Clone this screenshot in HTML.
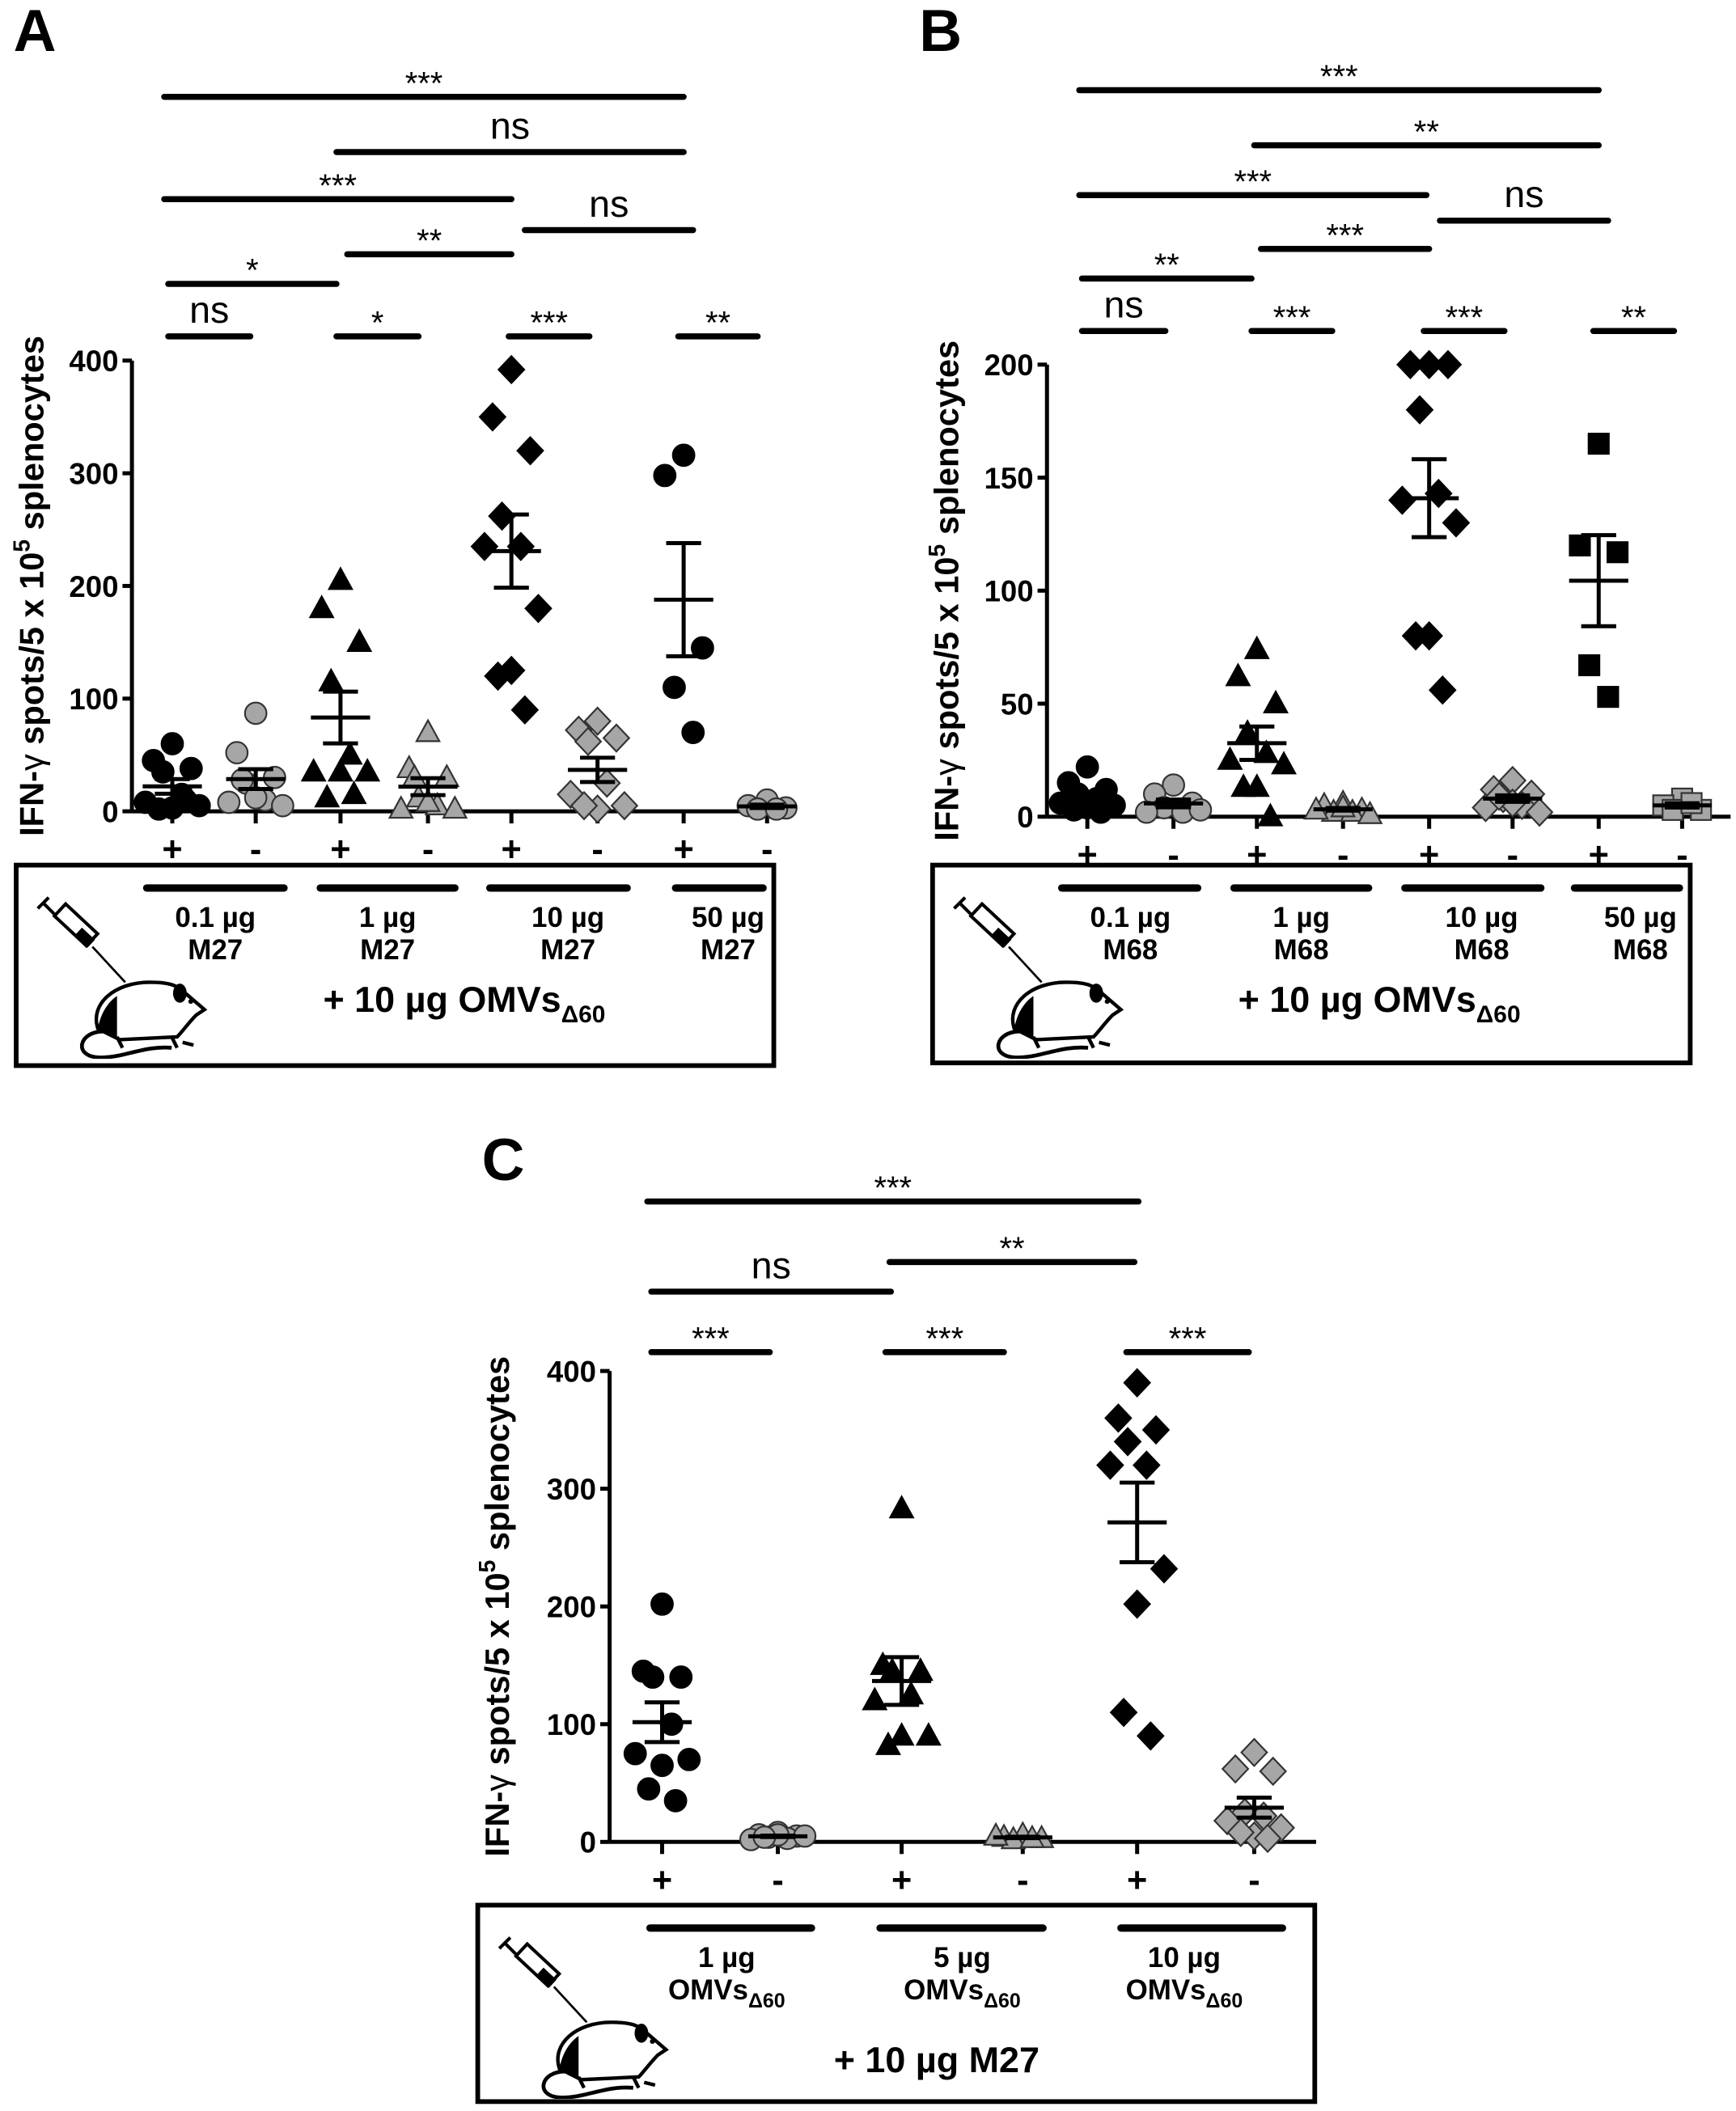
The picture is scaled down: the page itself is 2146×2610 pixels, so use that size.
<!DOCTYPE html>
<html><head><meta charset="utf-8">
<style>
html,body{margin:0;padding:0;background:#fff;}
svg{display:block;}
text{font-family:"Liberation Sans",sans-serif;}
</style></head>
<body>
<svg id="fig" width="2146" height="2610" viewBox="0 0 1290 1569" xmlns="http://www.w3.org/2000/svg">
<defs>
<symbol id="mouse" viewBox="0 0 130 120">
<g fill="none" stroke="#000" stroke-width="2.4">
<line x1="2" y1="10" x2="10" y2="2"/>
<line x1="6" y1="6" x2="14" y2="14"/>
<rect x="14" y="16" width="32" height="12" transform="rotate(43 30 22)" fill="#fff"/>
<line x1="42" y1="38" x2="66" y2="64" stroke-width="1.6"/>
</g>
<rect x="30" y="27" width="13" height="8" transform="rotate(43 36 31)" fill="#000"/>
<path d="M50 100 C32 100 28 118 46 119 C64 120 80 110 100 112" fill="none" stroke="#000" stroke-width="2.8"/>
<path d="M46 98 C40 80 58 64 84 64 C98 64 104 66 110 72 L124 84 L118 88 C112 94 108 100 104 104 L62 106 Z" fill="#fff" stroke="#000" stroke-width="2.6"/>
<path d="M46 98 C48 86 54 78 60 74 L60 104 Z" fill="#000"/>
<ellipse cx="106" cy="72" rx="5" ry="7" fill="#000"/>
<circle cx="114" cy="78" r="1.8" fill="#000"/>
<path d="M60 104 l4 8 M100 104 l4 8 M108 108 l8 2" stroke="#000" stroke-width="2.6"/>
</symbol>
</defs>
</svg>
<script>
// ---------- data ----------
const groupLabelsAB = ["+","-","+","-","+","-","+","-"];
const groupLabelsC = ["+","-","+","-","+","-"];
const aTicks = [0,100,200,300,400];
const bTicks = [0,50,100,150,200];
const cTicks = [0,100,200,300,400];
const a1 = [60,45,38,35,15,8,5,3,2,10];
const a2 = [87,52,30,25,10,8,5,12,28];
const a3 = [205,180,150,115,50,35,35,35,12,15];
const a4 = [70,38,30,12,5,2,2,8,30];
const a5 = [392,350,320,262,235,235,180,125,120,90];
const a6 = [80,72,65,62,25,15,5,2,5];
const a7 = [316,298,145,110,70];
const a8 = [10,5,3,2,2];
const b1 = [22,15,12,10,8,6,5,4,3,2];
const b2 = [14,10,6,4,2,2,3];
const b3 = [74,62,50,37,28,25,23,13,13,0];
const b4 = [6,5,3,2,2,3,1,4];
const b5 = [200,200,200,180,143,140,130,80,80,56];
const b6 = [16,12,10,8,5,4,2,6,9];
const b7 = [165,120,117,67,53];
const b8 = [8,5,3,3,6];
const c1 = [202,145,140,140,100,75,70,65,45,35];
const c2 = [8,6,5,4,3,2,5,6,4];
const c3 = [283,150,145,145,125,120,90,90,82];
const c4 = [6,4,3,2,3,5];
const c5 = [390,360,350,340,320,320,232,202,110,90];
const c6 = [76,62,60,25,22,18,12,5,8,3];
const aLabels = ["0.1 µg|M27","1 µg|M27","10 µg|M27","50 µg|M27"];
const bLabels = ["0.1 µg|M68","1 µg|M68","10 µg|M68","50 µg|M68"];
const cLabels = ["1 µg|OMVs","5 µg|OMVs","10 µg|OMVs"];
const aSig = ["***","ns","***","ns","**","*","ns","*","***","**"];
const bSig = ["***","**","***","ns","***","**","ns","***","***","**"];
const cSig = ["***","**","ns","***","***","***"];

const NS="http://www.w3.org/2000/svg";
const svg=document.getElementById('fig');
function el(tag,attrs,parent){const e=document.createElementNS(NS,tag);for(const k in attrs)e.setAttribute(k,attrs[k]);(parent||svg).appendChild(e);return e;}
function txt(s,x,y,size,bold,parent,anchor){const t=el('text',{x:x,y:y,'font-size':size,'text-anchor':anchor||'middle','font-weight':bold?'bold':'normal'},parent);t.textContent=s;return t;}
const jit=[0,-14,14,-7,7,-20,20,0,-10,10,-16,16];

function marker(shape,fill,cx,cy,g){
  const st={fill:fill,stroke:fill==='#000'?'#000':'#333','stroke-width':1.3};
  let m;
  if(shape==='circle') m=el('circle',Object.assign({cx:cx,cy:cy,r:8},st),g);
  else if(shape==='tri') m=el('polygon',Object.assign({points:`${cx},${cy-9} ${cx-8.5},${cy+6.5} ${cx+8.5},${cy+6.5}`},st),g);
  else if(shape==='dia') m=el('polygon',Object.assign({points:`${cx},${cy-10} ${cx+9.5},${cy} ${cx},${cy+10} ${cx-9.5},${cy}`},st),g);
  else m=el('rect',Object.assign({x:cx-7.5,y:cy-7.5,width:15,height:15},st),g);
  
  
}

function panel(cfg){
  const g=el('g',{});
  
  
  const y=v=>cfg.y0-(v/cfg.ymax)*(cfg.y0-cfg.ytop);
  const L=txt(cfg.letter,cfg.lx,cfg.ly,44,true,g,'start');
  
  
  const ax=el('line',{x1:cfg.ax,y1:cfg.ytop,x2:cfg.ax,y2:cfg.y0,stroke:'#000','stroke-width':3},g);
  
  
  const xa=el('line',{x1:cfg.ax,y1:cfg.y0,x2:cfg.xend,y2:cfg.y0,stroke:'#000','stroke-width':3},g);
  
  
  cfg.ticks.forEach(t=>{
    el('line',{x1:cfg.ax-7,y1:y(t),x2:cfg.ax,y2:y(t),stroke:'#000','stroke-width':3},g);
    const tl=txt(String(t),cfg.ax-10,y(t)+8,22,true,g,'end');
    
    
  });
  const yt=txt('',0,0,25,true,g);
  yt.setAttribute('transform',`translate(${cfg.titleX},${(cfg.ytop+cfg.y0)/2}) rotate(-90)`);
  yt.innerHTML='IFN-<tspan font-weight="normal">γ</tspan> spots/5 x 10<tspan dy="-10" font-size="17">5</tspan><tspan dy="10"> splenocytes</tspan>';
  
  
  cfg.data.forEach((d,i)=>{
    const gx=cfg.xs[i];
    el('line',{x1:gx,y1:cfg.y0,x2:gx,y2:cfg.y0+9,stroke:'#000','stroke-width':3},g);
    const lb=txt(cfg.glabels[i],gx,cfg.y0+37,26,true,g);
    
    
    const fill=i%2===0?'#000':'#a6a6a6';
    d.forEach((v,k)=>marker(cfg.shapes[i],fill,gx+jit[k%jit.length],y(v),g));
    const n=d.length,mean=d.reduce((a,b)=>a+b,0)/n;
    const sd=Math.sqrt(d.reduce((a,b)=>a+(b-mean)*(b-mean),0)/(n-1)),sem=sd/Math.sqrt(n);
    const eg=el('g',{stroke:'#000','stroke-width':3},g);
    
    
    el('line',{x1:gx-22,y1:y(mean),x2:gx+22,y2:y(mean)},eg);
    el('line',{x1:gx,y1:y(mean-sem),x2:gx,y2:y(mean+sem)},eg);
    el('line',{x1:gx-13,y1:y(mean-sem),x2:gx+13,y2:y(mean-sem)},eg);
    el('line',{x1:gx-13,y1:y(mean+sem),x2:gx+13,y2:y(mean+sem)},eg);
  });
  cfg.sigPos.forEach((p,i)=>{
    const s=cfg.sig[i];
    const sg=el('g',{},g);
    
    
    el('line',{x1:p[0],y1:p[2],x2:p[1],y2:p[2],stroke:'#000','stroke-width':4.5,'stroke-linecap':'round'},sg);
    if(s==='ns') txt('ns',(p[0]+p[1])/2,p[2]-10,28,false,sg);
    else txt(s,(p[0]+p[1])/2,p[2]-2,24,false,sg);
  });
  const bx=el('rect',{x:cfg.box[0],y:cfg.box[1],width:cfg.box[2],height:cfg.box[3],fill:'none',stroke:'#000','stroke-width':3.5},g);
  
  
  const mu=el('use',{href:'#mouse',x:cfg.box[0]+14,y:cfg.box[1]+22,width:132,height:122},g);
  
  
  cfg.blabels.forEach((lab,j)=>{
    const bb=cfg.bars[j];
    const cx=cfg.lc[j];
    el('line',{x1:bb[0],y1:cfg.box[1]+17,x2:bb[1],y2:cfg.box[1]+17,stroke:'#000','stroke-width':5.5,'stroke-linecap':'round'},g);
    const [l1,l2]=lab.split('|');
    const t1=txt(l1,cx,cfg.box[1]+46,21,true,g);
    
    
    const t2=txt(l2,cx,cfg.box[1]+70,21,true,g);
    if(cfg.sub) t2.innerHTML=l2+'<tspan font-size="15" dy="6">Δ60</tspan>';
    
    
  });
  const bt=txt('',cfg.bottom[0],cfg.bottom[1],27,true,g);
  bt.innerHTML=cfg.bottomHTML;
  
  
}

panel({name:'panel-a',letter:'A',lx:10,ly:38,ax:98,y0:603,ytop:268,ymax:400,xend:578,ticks:aTicks,titleX:32,
  xs:[128,190,253,318,380,444,508,570],data:[a1,a2,a3,a4,a5,a6,a7,a8],glabels:groupLabelsAB,
  shapes:['circle','circle','tri','tri','dia','dia','circle','circle'],sig:aSig,
  sigPos:[[122,508,72],[250,508,113],[122,380,148],[390,515,171],[258,380,189],[125,250,211],[125,186,250],[250,311,250],[378,438,250],[504,563,250]],
  box:[12,643,563,149],blabels:aLabels,bars:[[109,211],[238,338],[364,466],[502,567]],lc:[160,288,422,541],sub:false,bottom:[345,752],bottomHTML:'+ 10 µg OMVs<tspan font-size="18" dy="8">Δ60</tspan>'});
panel({name:'panel-b',letter:'B',lx:683,ly:38,ax:778,y0:607,ytop:271,ymax:200,xend:1286,ticks:bTicks,titleX:712,
  xs:[808,872,934,998,1062,1124,1188,1250],data:[b1,b2,b3,b4,b5,b6,b7,b8],glabels:groupLabelsAB,
  shapes:['circle','circle','tri','tri','dia','dia','square','square'],sig:bSig,
  sigPos:[[802,1188,67],[932,1188,108],[802,1060,145],[1070,1195,164],[937,1062,185],[804,930,207],[804,866,246],[930,990,246],[1058,1118,246],[1184,1244,246]],
  box:[693,643,563,147],blabels:bLabels,bars:[[789,890],[917,1017],[1044,1145],[1170,1248]],lc:[840,967,1101,1219],sub:false,bottom:[1025,752],bottomHTML:'+ 10 µg OMVs<tspan font-size="18" dy="8">Δ60</tspan>'});
panel({name:'panel-c',letter:'C',lx:358,ly:877,ax:453,y0:1369,ytop:1019,ymax:400,xend:978,ticks:cTicks,titleX:378,
  xs:[492,578,670,760,845,932],data:[c1,c2,c3,c4,c5,c6],glabels:groupLabelsC,
  shapes:['circle','circle','tri','tri','dia','dia'],sig:cSig,
  sigPos:[[481,846,893],[661,843,938],[484,662,960],[484,572,1005],[658,746,1005],[837,928,1005]],
  box:[355,1416,622,146],blabels:cLabels,bars:[[483,603],[654,775],[833,953]],lc:[540,715,880],sub:true,bottom:[696,1540],bottomHTML:'+ 10 µg M27'});
</script>
</body></html>
